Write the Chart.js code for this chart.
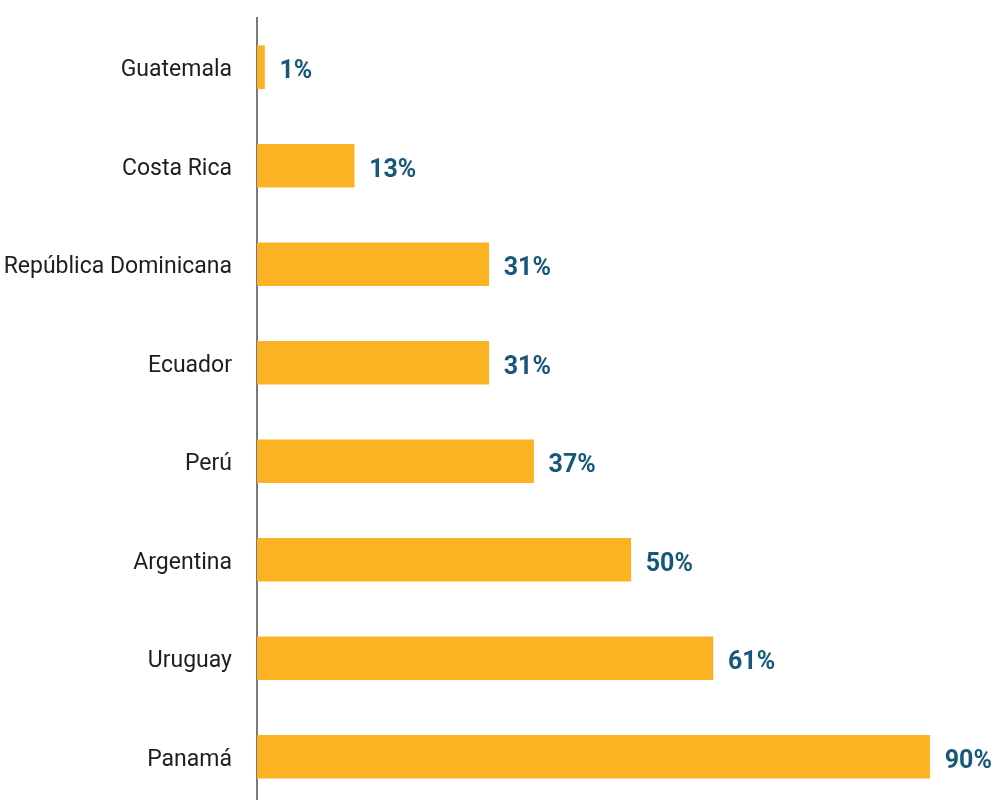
<!DOCTYPE html>
<html>
<head>
<meta charset="utf-8">
<script src="https://cdn.jsdelivr.net/npm/chart.js@4"></script>
<style>
  html, body { margin: 0; padding: 0; background: #fff; overflow: hidden; }
  #wrap { width: 997px; height: 806px; position: relative; }
</style>
</head>
<body>
<div id="wrap"><canvas id="chart"></canvas></div>
<script>
// Share of each country (percent)
const countries = ["Guatemala", "Costa Rica", "República Dominicana", "Ecuador", "Perú", "Argentina", "Uruguay", "Panamá"];
const shares = [1, 13, 31, 31, 37, 50, 61, 90];
const valueLabels = ["1%", "13%", "31%", "31%", "37%", "50%", "61%", "90%"];

const FONT = "'Roboto', 'Lato', sans-serif";

// Writes the percentage to the right of each bar
const barValueLabels = {
  id: "barValueLabels",
  afterDatasetsDraw(chart) {
    const ctx = chart.ctx;
    const meta = chart.getDatasetMeta(0);
    ctx.save();
    ctx.font = "bold 25px " + FONT;
    ctx.fillStyle = "#17577a";
    ctx.textAlign = "left";
    ctx.textBaseline = "alphabetic";
    meta.data.forEach((bar, i) => {
      ctx.fillText(valueLabels[i], bar.x + 15, bar.y + 11);
    });
    ctx.restore();
  }
};

new Chart(document.getElementById("chart"), {
  type: "bar",
  data: {
    labels: countries,
    datasets: [{
      data: shares,
      backgroundColor: "#fbb324",
      borderWidth: 0,
      barThickness: 43
    }]
  },
  options: {
    indexAxis: "y",
    responsive: true,
    maintainAspectRatio: false,
    animation: false,
    layout: { padding: { top: 18, right: 0, bottom: 0, left: 0 } },
    plugins: {
      legend: { display: false },
      tooltip: { enabled: false }
    },
    scales: {
      x: {
        min: 0,
        max: 99,
        display: false,
        grid: { display: false }
      },
      y: {
        grid: { display: false, drawTicks: false },
        border: { display: true, color: "#7a7a7a", width: 2 },
        ticks: {
          color: "#1e1e1e",
          padding: 25,
          labelOffset: 3,
          font: { family: FONT, size: 23 }
        },
        afterFit(scale) {
          scale.width = 257;
          scale.paddingTop = 0;
          scale.paddingBottom = 0;
        }
      }
    }
  },
  plugins: [barValueLabels]
});
</script>
</body>
</html>
